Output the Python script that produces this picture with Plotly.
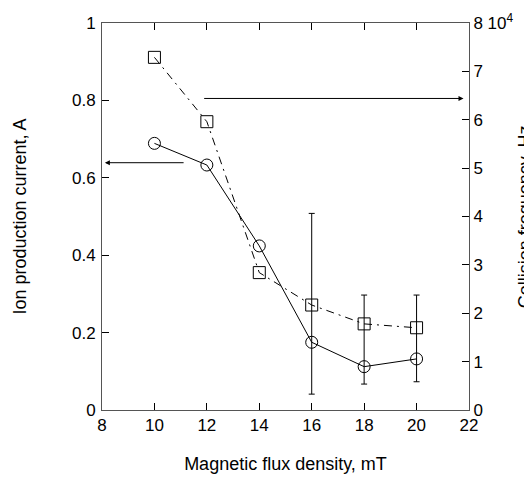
import plotly.graph_objects as go

# Data
field_mT = [10, 12, 14, 16, 18, 20]
ion_current_A = [0.689, 0.633, 0.424, 0.175, 0.112, 0.132]
collision_freq_Hz = [7.29e4, 5.96e4, 2.84e4, 2.17e4, 1.78e4, 1.70e4]

err_x = [16, 18, 20]
err_low = [0.041, 0.067, 0.073]
err_high = [0.508, 0.297, 0.297]

left_ticks = [0, 0.2, 0.4, 0.6, 0.8, 1]
left_ticktext = ["0", "0.2", "0.4", "0.6", "0.8", "1"]
right_ticks = [0, 1e4, 2e4, 3e4, 4e4, 5e4, 6e4, 7e4, 8e4]
right_ticktext = ["0", "1", "2", "3", "4", "5", "6", "7", "8 10<sup>4</sup>"]
x_ticks = [8, 10, 12, 14, 16, 18, 20, 22]

FONT = "Liberation Sans, Arial, sans-serif"

fig = go.Figure()

fig.add_trace(go.Scatter(
    x=field_mT, y=ion_current_A, mode="lines+markers",
    line=dict(color="black", width=1),
    marker=dict(symbol="circle-open", size=12, color="black", line=dict(width=1)),
    showlegend=False, yaxis="y"))

fig.add_trace(go.Scatter(
    x=field_mT, y=collision_freq_Hz, mode="lines+markers",
    line=dict(color="black", width=1, dash="8px,5px,2px,5px"),
    marker=dict(symbol="square-open", size=12, color="black", line=dict(width=1)),
    showlegend=False, yaxis="y2"))

err_mid = [(a + b) / 2 for a, b in zip(err_low, err_high)]
fig.add_trace(go.Scatter(
    x=err_x, y=err_mid, mode="markers",
    marker=dict(size=1, opacity=0, color="black"),
    error_y=dict(type="data", symmetric=False,
                 array=[h - m for h, m in zip(err_high, err_mid)],
                 arrayminus=[m - l for m, l in zip(err_mid, err_low)],
                 color="black", thickness=1, width=3),
    showlegend=False, hoverinfo="skip", yaxis="y"))

# arrows
fig.add_annotation(x=8.11, y=0.639, ax=11.17, ay=0.639, xref="x", yref="y",
                   axref="x", ayref="y", showarrow=True, arrowhead=2,
                   arrowsize=1, arrowwidth=1, arrowcolor="black", text="")
fig.add_annotation(x=21.79, y=0.805, ax=11.84, ay=0.805, xref="x", yref="y",
                   axref="x", ayref="y", showarrow=True, arrowhead=2,
                   arrowsize=1, arrowwidth=1, arrowcolor="black", text="")

# right axis title (placed near the edge as in the reference)
fig.add_annotation(text="Collision frequency, Hz", xref="paper", yref="paper",
                   x=1.152, y=0.5, xanchor="center", yanchor="middle",
                   textangle=-90, showarrow=False, font=dict(size=18))

# the page body adds an 8px offset, so the figure is sized to fill the rest
fig.update_layout(
    width=524, height=471,
    margin=dict(l=94, r=63, t=15, b=69, autoexpand=False),
    paper_bgcolor="white", plot_bgcolor="white",
    font=dict(family=FONT, size=17, color="black"),
    xaxis=dict(range=[8, 22], tickvals=x_ticks, ticks="inside", ticklen=7,
               tickcolor="black", showline=True, linecolor="#555", linewidth=1,
               mirror="ticks", showgrid=False, zeroline=False, automargin=False,
               tickfont=dict(size=17),
               title=dict(text="Magnetic flux density, mT", font=dict(size=18), standoff=22)),
    yaxis=dict(range=[0, 1], tickvals=left_ticks, ticktext=left_ticktext,
               ticks="inside", ticklen=7, tickcolor="black", showline=True,
               linecolor="#555", linewidth=1, showgrid=False, zeroline=False,
               automargin=False, tickfont=dict(size=17), ticklabelstandoff=2,
               title=dict(text="Ion production current, A", font=dict(size=18), standoff=40)),
    yaxis2=dict(range=[0, 8e4], tickvals=right_ticks, ticktext=right_ticktext,
                overlaying="y", side="right", ticks="inside", ticklen=7,
                tickcolor="black", showline=True, linecolor="#555", linewidth=1,
                showgrid=False, zeroline=False, automargin=False, tickfont=dict(size=17)),
)

fig.write_html("out.html")
